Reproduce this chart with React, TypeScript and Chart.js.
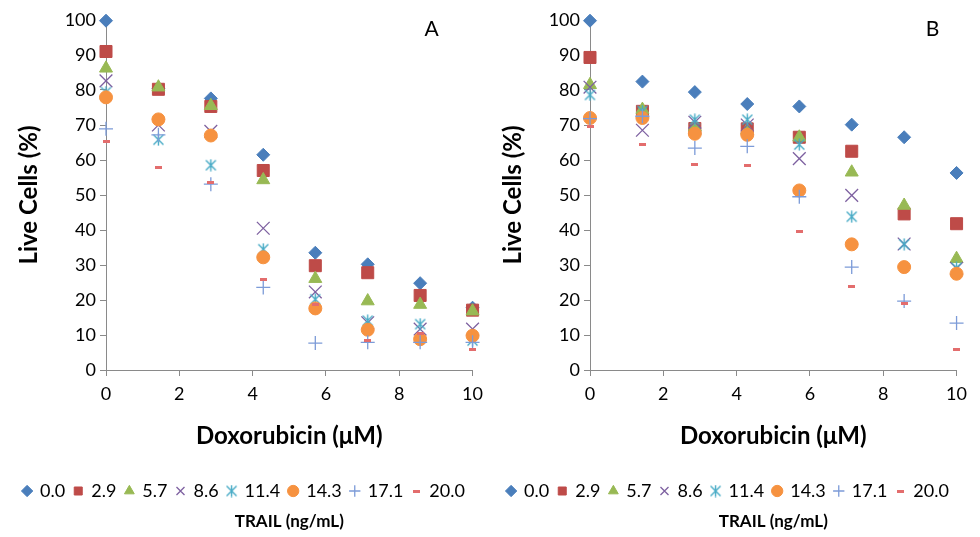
import React, { useEffect, useRef } from 'react';
import { Chart, registerables } from 'chart.js';

Chart.register(...registerables);

// Doxorubicin concentrations (µM)
const doxorubicin = [0, 1.43, 2.86, 4.29, 5.71, 7.14, 8.57, 10];
// TRAIL concentrations (ng/mL) -> legend labels
const trailLabels = ['0.0', '2.9', '5.7', '8.6', '11.4', '14.3', '17.1', '20.0'];
const xTickStep = 2;
const yTickStep = 10;

// Panel A: live cells (%)
const a_0_0 = [99.8, 80.5, 77.6, 61.5, 33.5, 30.2, 24.8, 17.8];
const a_2_9 = [91, 80.2, 75.3, 57, 29.8, 27.8, 21.3, 17.1];
const a_5_7 = [86.2, 80.8, 75.5, 54.3, 26.1, 19.7, 18.7, 16.8];
const a_8_6 = [82.6, 70, 68.2, 40.5, 22.3, 13.5, 11.7, 11.7];
const a_11_4 = [79.4, 65.8, 58.5, 34.5, 20.2, 14.1, 13.1, 8.4];
const a_14_3 = [77.9, 71.6, 67, 32.2, 17.6, 11.5, 8.8, 9.8];
const a_17_1 = [68.9, 67.2, 53.1, 23.6, 7.7, 7.9, 7.9, 7.9];
const a_20_0 = [65.2, 58, 53.5, 26, 18.7, 8.5, 10.3, 5.8];

// Panel B: live cells (%)
const b_0_0 = [99.8, 82.4, 79.4, 76, 75.3, 70.1, 66.5, 56.3];
const b_2_9 = [89.3, 73.9, 69, 68.9, 66.5, 62.5, 44.6, 41.8];
const b_5_7 = [81.5, 74.4, 69.4, 68.5, 66.5, 56.5, 47, 31.8];
const b_8_6 = [80.8, 68.5, 70.8, 70, 60.4, 49.9, 36, 29];
const b_11_4 = [78.6, 74, 71.5, 71.5, 64.4, 43.8, 35.9, 29.2];
const b_14_3 = [72, 72, 67.5, 67.2, 51.3, 35.9, 29.4, 27.5];
const b_17_1 = [71.8, 72.5, 63.4, 63.9, 49.5, 29.4, 19.7, 13.4];
const b_20_0 = [69.6, 64.3, 58.6, 58.5, 39.5, 23.9, 19.1, 5.8];

const seriesA = [a_0_0, a_2_9, a_5_7, a_8_6, a_11_4, a_14_3, a_17_1, a_20_0];
const seriesB = [b_0_0, b_2_9, b_5_7, b_8_6, b_11_4, b_14_3, b_17_1, b_20_0];

const colors = ['#4A7EBB', '#BE4B48', '#98B954', '#7D60A0', '#46AAC5', '#F69240', '#7C9BD8', '#E36D6D'];

const FONT = 'Lato, "Open Sans", sans-serif';

function makeAsterisk(color: string, size: number) {
  const c = document.createElement('canvas');
  c.width = size;
  c.height = size;
  const g = c.getContext('2d')!;
  g.strokeStyle = color;
  g.lineWidth = 1.4;
  const m = 1.5;
  g.beginPath();
  g.moveTo(m, m);
  g.lineTo(size - m, size - m);
  g.moveTo(size - m, m);
  g.lineTo(m, size - m);
  g.moveTo(size / 2, 0.5);
  g.lineTo(size / 2, size - 0.5);
  g.stroke();
  return c;
}

function makeDash(color: string, w: number, h: number) {
  const c = document.createElement('canvas');
  c.width = w;
  c.height = h;
  const g = c.getContext('2d')!;
  g.fillStyle = color;
  g.fillRect(0, 0, w, h);
  return c;
}

const annotate = {
  id: 'annotate',
  afterDraw(chart: any, _args: any, opts: any) {
    const { ctx, chartArea } = chart;
    ctx.save();
    ctx.fillStyle = '#000';
    ctx.textAlign = 'center';
    ctx.textBaseline = 'middle';
    ctx.font = `21px ${FONT}`;
    ctx.fillText(opts.letter, chartArea.right - opts.letterDx, chartArea.top + 9);
    ctx.font = `bold 17px ${FONT}`;
    ctx.fillText(opts.footer, (chartArea.left + chartArea.right) / 2, chart.height - 15);
    ctx.restore();
  },
};

function Panel({ series, letter, letterDx, left }: { series: number[][]; letter: string; letterDx: number; left: number }) {
  const ref = useRef<HTMLCanvasElement>(null);
  useEffect(() => {
    const styles: any[] = [
      { pointStyle: 'rectRot', pointRadius: 6.5, borderWidth: 1 },
      { pointStyle: 'rect', pointRadius: 8.5, borderWidth: 1 },
      { pointStyle: 'triangle', pointRadius: 7.5, borderWidth: 1 },
      { pointStyle: 'crossRot', pointRadius: 9, borderWidth: 1.3 },
      { pointStyle: makeAsterisk(colors[4], 13), pointRadius: 6, borderWidth: 1 },
      { pointStyle: 'circle', pointRadius: 6.5, borderWidth: 1 },
      { pointStyle: 'cross', pointRadius: 7, borderWidth: 1.3 },
      { pointStyle: makeDash(colors[7], 7, 3), pointRadius: 4, borderWidth: 1 },
    ];
    const datasets = series.map((vals, i) => ({
      label: trailLabels[i],
      data: vals.map((v, j) => ({ x: doxorubicin[j], y: v })),
      backgroundColor: colors[i],
      borderColor: colors[i],
      pointHoverRadius: styles[i].pointRadius,
      clip: false,
      showLine: false,
      order: series.length - i,
      ...styles[i],
    }));
    const axisColor = '#8a8a8a';
    const chart = new Chart(ref.current!, {
      type: 'scatter',
      data: { datasets },
      plugins: [annotate],
      options: {
        animation: false,
        responsive: false,
        layout: { padding: { top: 20, right: 12, bottom: 27, left: 10 } },
        scales: {
          x: {
            type: 'linear',
            min: 0,
            max: 10,
            ticks: { stepSize: xTickStep, font: { family: FONT, size: 18 }, color: '#000', padding: 7 },
            grid: { display: true, drawOnChartArea: false, drawTicks: true, tickLength: 6, color: axisColor },
            border: { display: true, color: axisColor },
            title: {
              display: true,
              text: 'Doxorubicin (μM)',
              font: { family: FONT, size: 24, weight: 'bold' },
              color: '#000',
              padding: { top: 4, bottom: 22 },
            },
            afterFit(s: any) {
              s.height = 103;
            },
          },
          y: {
            min: 0,
            max: 100,
            ticks: { stepSize: yTickStep, font: { family: FONT, size: 18 }, color: '#000', padding: 4 },
            grid: { display: true, drawOnChartArea: false, drawTicks: true, tickLength: 6, color: axisColor },
            border: { display: true, color: axisColor },
            title: {
              display: true,
              text: 'Live Cells (%)',
              font: { family: FONT, size: 24, weight: 'bold' },
              color: '#000',
              padding: { top: 5, bottom: 0 },
            },
            afterFit(s: any) {
              s.width = 96;
            },
          },
        },
        plugins: {
          legend: {
            position: 'bottom',
            labels: {
              usePointStyle: true,
              boxWidth: 8,
              boxHeight: 8,
              font: { family: FONT, size: 18 },
              color: '#000',
              padding: 9,
              sort: (a: any, b: any) => a.datasetIndex - b.datasetIndex,
            },
          },
          tooltip: { enabled: false },
          annotate: { letter, letterDx, footer: 'TRAIL (ng/mL)' },
        } as any,
      },
    });
    return () => chart.destroy();
  }, [series, letter, letterDx]);
  return (
    <canvas
      ref={ref}
      width={490}
      height={537}
      style={{ position: 'absolute', left, top: 0, width: 490, height: 537 }}
    />
  );
}

export default function App() {
  return (
    <div style={{ position: 'fixed', left: 0, top: 0, width: 980, height: 537, background: '#fff', overflow: 'hidden' }}>
      <Panel series={seriesA} letter="A" letterDx={41} left={0} />
      <Panel series={seriesB} letter="B" letterDx={24} left={484} />
    </div>
  );
}
